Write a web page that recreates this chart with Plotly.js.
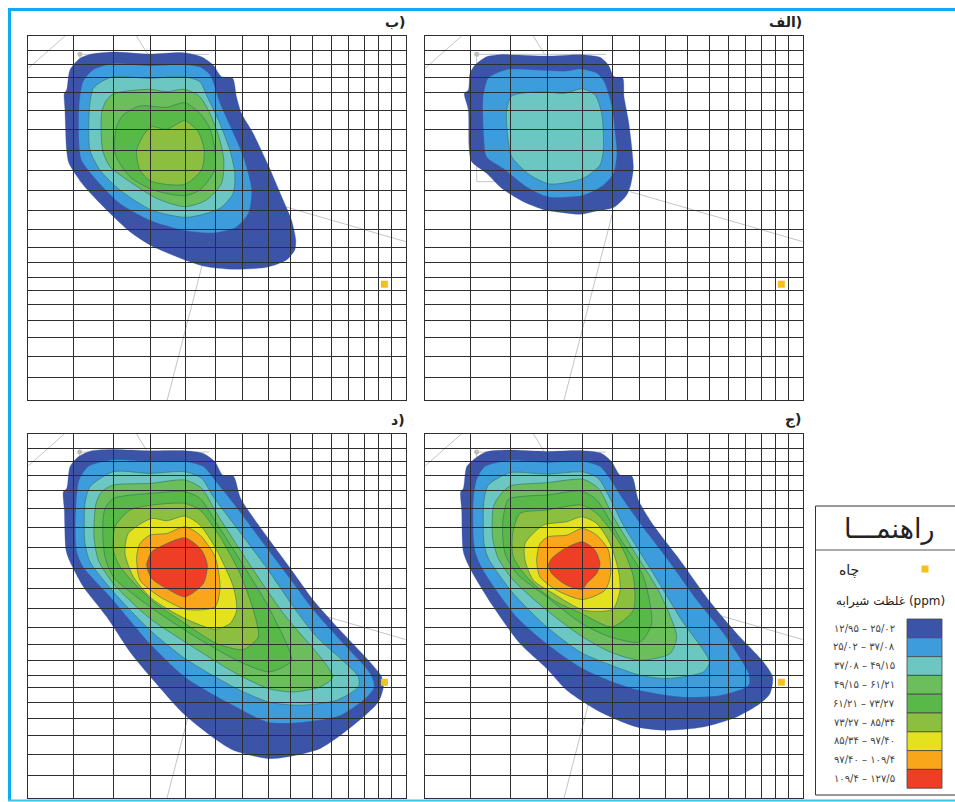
<!DOCTYPE html>
<html><head><meta charset="utf-8">
<script src="https://cdn.plot.ly/plotly-3.0.1.min.js"></script>
<style>html,body{margin:0;padding:0;background:#fff}#c{width:955px;height:802px}</style></head>
<body><div id="c"></div>
<script>
// Shared map reference values, measured from the panel's top-left corner
const gridX=[135,256,367,472,562,644,722,788,853,910,962,1008,1052,1091];
const gridY=[44,84,124,170,224,281,342,403,463,524,581,633,679,725,762,806,853,904,961,1024];
const roadA=[[110,0],[0,97]];
const roadB=[[325,0],[360,57]];
const roadC=[[543,55],[155,55],[155,437],[225,437]];
const roadD=[[615,467],[1133,617]];
const roadE=[[565,522],[417,1092]];
const roadDot=[155,55];
const wellPos=[1069,745];

const levelColors=['#3b54a8','#3d9cdc','#6cc6c2','#6cbd5c','#58b948','#8cbf3f','#e4e21e','#f9a61a','#ee3e25'];
const levelLabels=['۱۲/۹۵ – ۲۵/۰۲','۲۵/۰۲ – ۳۷/۰۸','۳۷/۰۸ – ۴۹/۱۵','۴۹/۱۵ – ۶۱/۲۱','۶۱/۲۱ – ۷۳/۲۷','۷۳/۲۷ – ۸۵/۳۴','۸۵/۳۴ – ۹۷/۴۰','۹۷/۴۰ – ۱۰۹/۴','۱۰۹/۴ – ۱۲۷/۵'];

// Contour outlines per panel, innermost last
const panelA=[
[[200,140],[240,134],[380,138],[480,134],[540,142],[565,165],[582,200],[608,204],[612,260],[625,330],[635,410],[640,475],[632,525],[620,555],[582,592],[520,605],[480,613],[430,608],[375,600],[310,575],[245,535],[200,490],[155,455],[147,410],[145,300],[133,250],[145,240],[150,190],[165,165]],
[[270,178],[380,182],[440,184],[480,178],[530,190],[552,215],[575,290],[585,370],[590,430],[580,490],[550,525],[490,555],[385,560],[320,530],[250,475],[200,440],[192,380],[190,260],[205,205],[230,190]],
[[275,258],[360,245],[435,250],[485,236],[525,255],[545,310],[550,420],[540,465],[490,505],[390,522],[330,495],[275,440],[262,370],[260,300]]
];
const panelB=[
[[215,132],[280,126],[390,132],[490,128],[545,140],[580,165],[605,200],[638,204],[650,260],[665,310],[700,370],[745,465],[790,570],[815,630],[828,690],[825,720],[800,750],[740,772],[640,778],[550,768],[470,740],[390,705],[330,665],[260,600],[190,525],[147,460],[140,420],[135,300],[133,250],[140,240],[150,180],[180,145]],
[[280,162],[390,168],[490,164],[540,172],[570,195],[600,280],[640,370],[670,440],[695,540],[685,610],[650,650],[580,668],[490,660],[390,630],[300,580],[230,510],[185,450],[178,400],[178,290],[190,215],[220,180]],
[[280,200],[390,205],[490,200],[540,215],[560,255],[600,340],[630,420],[645,490],[640,550],[600,595],[500,622],[395,600],[300,540],[240,480],[210,420],[208,300],[220,235],[245,215]],
[[285,250],[390,238],[440,245],[495,238],[540,260],[570,310],[600,390],[612,450],[605,520],[560,570],[495,590],[410,565],[330,515],[270,470],[248,420],[245,310],[260,270]],
[[360,288],[440,292],[495,278],[540,310],[570,355],[585,420],[585,480],[540,540],[495,557],[400,540],[330,500],[285,430],[290,350],[310,315]],
[[395,350],[440,358],[495,332],[535,365],[553,420],[545,480],[495,523],[430,522],[390,512],[360,480],[350,420],[375,370]]
];
const panelC=[
[[200,125],[270,120],[380,124],[490,122],[545,130],[575,155],[600,195],[635,198],[655,270],[700,345],[780,450],[870,575],[950,670],[1030,755],[1058,800],[1050,850],[1020,880],[950,920],[850,950],[735,960],[650,950],[540,905],[440,840],[380,775],[300,700],[220,590],[150,475],[130,425],[125,300],[122,245],[130,235],[140,170],[165,145]],
[[270,152],[380,158],[490,155],[540,170],[565,200],[610,270],[660,340],[740,445],[830,570],[910,670],[985,790],[985,825],[900,855],[790,860],[660,840],[580,815],[480,770],[380,700],[290,620],[190,480],[165,420],[160,280],[170,210],[195,170]],
[[270,188],[380,192],[490,186],[535,205],[570,265],[610,345],[700,490],[785,630],[868,755],[850,785],[740,805],[660,795],[560,760],[480,725],[380,650],[280,550],[205,445],[192,400],[192,270],[205,225]],
[[270,228],[380,218],[490,208],[535,235],[580,320],[640,420],[720,550],[770,680],[750,730],[660,750],[570,725],[480,675],[380,600],[280,510],[235,445],[218,385],[220,290],[240,255]],
[[265,268],[320,258],[380,255],[485,243],[530,270],[600,385],[670,500],[695,640],[660,695],[570,680],[485,640],[380,560],[290,490],[255,430],[248,340]],
[[300,310],[380,300],[485,285],[530,310],[600,400],[640,500],[640,600],[575,650],[485,610],[400,570],[320,500],[280,440],[278,370]],
[[370,345],[440,335],[485,320],[530,340],[570,400],[595,480],[600,540],[578,597],[490,600],[400,550],[340,510],[315,450],[315,400]],
[[385,380],[440,375],[487,355],[530,375],[565,420],[572,490],[555,540],[487,568],[410,540],[360,500],[350,450],[360,400]],
[[430,418],[487,395],[525,420],[540,460],[530,490],[500,520],[487,537],[440,525],[395,490],[385,465],[395,445]]
];
const panelD=[
[[215,122],[280,118],[390,122],[495,122],[550,130],[585,155],[608,195],[640,198],[662,265],[745,385],[815,480],[880,570],[960,660],[1045,750],[1085,800],[1090,830],[1075,875],[1000,945],[900,1015],[800,1040],[745,1045],[640,1020],[570,975],[490,910],[400,810],[330,725],[260,620],[190,530],[150,455],[138,420],[133,300],[130,245],[140,235],[150,170],[175,140]],
[[280,150],[390,155],[495,155],[550,170],[580,205],[640,280],[745,420],[820,520],[880,600],[960,690],[1050,790],[1062,830],[1040,860],[960,915],[850,935],[745,935],[640,885],[495,800],[390,700],[280,570],[190,470],[170,420],[168,300],[178,210],[205,170]],
[[280,185],[390,190],[495,185],[545,205],[580,260],[640,340],[745,480],[820,590],[890,680],[1015,800],[1015,830],[950,870],[840,885],[745,875],[640,830],[495,745],[390,660],[280,545],[210,455],[195,400],[195,280],[210,230]],
[[280,225],[390,220],[495,210],[545,235],[590,310],[680,450],[790,610],[938,800],[900,830],[820,845],[745,835],[640,785],[495,695],[390,625],[280,520],[235,450],[222,380],[228,280],[245,245]],
[[280,265],[390,250],[495,245],[540,265],[590,340],[660,450],[745,590],[815,750],[790,770],[745,785],[660,755],[560,700],[495,660],[390,590],[280,500],[255,440],[248,350],[255,295]],
[[330,300],[395,285],[495,280],[540,300],[600,380],[660,490],[700,600],[715,680],[670,718],[590,700],[495,640],[395,570],[300,470],[280,420],[285,350]],
[[395,325],[440,332],[495,318],[540,345],[590,420],[640,530],[650,600],[630,640],[585,657],[495,625],[395,565],[340,500],[315,430],[325,370]],
[[390,375],[440,370],[495,350],[540,375],[585,440],[600,530],[585,590],[500,598],[420,560],[360,510],[350,440],[360,400]],
[[420,410],[495,383],[545,420],[562,465],[550,520],[495,560],[440,535],[395,505],[380,465],[395,425]]
];
const panelTitles=['الف)','ب)','ج)','د)'];

const W=955,H=802;
// page box of each panel and the origin of its outline values
const panels=[
 {shapes:panelA,box:[425,802.7,36,400],org:[15,78],name:'',t:0},
 {shapes:panelB,box:[28.3,405.7,36,400],org:[25,78],name:'2',t:1},
 {shapes:panelC,box:[425,802.7,433.7,798],org:[15,71],name:'3',t:2},
 {shapes:panelD,box:[28,405.7,433.7,798],org:[24,71],name:'4',t:3}
];
const PW=1133,PH=1092;
const traces=[],layout={width:W,height:H,margin:{l:0,r:0,t:0,b:0},paper_bgcolor:'#fff',plot_bgcolor:'rgba(0,0,0,0)',showlegend:false,shapes:[],annotations:[],font:{family:'"DejaVu Sans",sans-serif'}};

panels.forEach(p=>{
 const xa='x'+p.name,ya='y'+p.name,[ox,oy]=p.org;
 const axisBase={showgrid:false,zeroline:false,showticklabels:false,ticks:'inside',tickmode:'array',tickcolor:'#2e2e2e',tickwidth:1,layer:'above traces',showline:true,mirror:true,linecolor:'#2e2e2e',linewidth:1,fixedrange:true};
 layout['xaxis'+p.name]=Object.assign({},axisBase,{domain:[p.box[0]/W,p.box[1]/W],range:[ox,ox+PW],tickvals:gridX.map(v=>v+ox),ticklen:p.box[3]-p.box[2],anchor:ya});
 layout['yaxis'+p.name]=Object.assign({},axisBase,{domain:[1-p.box[3]/H,1-p.box[2]/H],range:[oy+PH,oy],tickvals:gridY.map(v=>v+oy),ticklen:p.box[1]-p.box[0],anchor:xa});
 [roadA,roadB,roadC,roadD,roadE].forEach(r=>traces.push({type:'scatter',mode:'lines',xaxis:xa,yaxis:ya,x:r.map(q=>q[0]+ox),y:r.map(q=>q[1]+oy),line:{color:'#c4c4c4',width:1},hoverinfo:'skip'}));
 traces.push({type:'scatter',mode:'markers',xaxis:xa,yaxis:ya,x:[roadDot[0]+ox],y:[roadDot[1]+oy],marker:{color:'#bdbdbd',size:5},hoverinfo:'skip'});
 p.shapes.forEach((s,i)=>{
  const c=s.concat([s[0]]);
  traces.push({type:'scatter',mode:'lines',fill:'toself',fillcolor:levelColors[i],xaxis:xa,yaxis:ya,x:c.map(q=>q[0]),y:c.map(q=>q[1]),
   line:{color:i<2?levelColors[i]:'#2b7262',width:i<2?0.3:0.6,shape:'spline',smoothing:0.7},hoverinfo:'skip'});
 });
 traces.push({type:'scatter',mode:'markers',xaxis:xa,yaxis:ya,x:[wellPos[0]+ox],y:[wellPos[1]+oy],marker:{symbol:'square',color:'#f4c01e',size:7},hoverinfo:'skip'});
 layout.annotations.push({xref:'paper',yref:'paper',x:(p.box[1]+1)/W,y:1-(p.box[2]-14)/H,xanchor:'right',yanchor:'middle',showarrow:false,
   text:'<b>'+panelTitles[p.t]+'</b>',font:{size:14,color:'#222',family:'"DejaVu Sans",sans-serif'}});
});

// page frame and legend box
const sh=(x0,y0,x1,y1,extra)=>layout.shapes.push(Object.assign({xref:'paper',yref:'paper',x0:x0/W,x1:x1/W,y0:1-y0/H,y1:1-y1/H},extra));
sh(9.5,9.5,9.5,800.5,{type:'line',line:{color:'#0aaeef',width:3}});
sh(8,9.5,955,9.5,{type:'line',line:{color:'#0aaeef',width:3}});
sh(8,800.5,955,800.5,{type:'line',line:{color:'#3cc0f0',width:2}});
sh(815.5,506,960,795,{type:'rect',line:{color:'#333',width:1},fillcolor:'#fff'});
sh(815.5,550,955,550,{type:'line',line:{color:'#555',width:1}});
sh(921.5,565.5,928.5,572.5,{type:'rect',line:{width:0},fillcolor:'#f4c01e'});
const ann=(x,y,text,size,color)=>layout.annotations.push({xref:'paper',yref:'paper',x:x/W,y:1-y/H,text,showarrow:false,xanchor:'center',yanchor:'middle',font:{size,color:color||'#222',family:'"DejaVu Sans",sans-serif'}});
ann(889,529,'راهنمـــا',27);
ann(849,570,'چاه',14);
ann(890,601,'غلظت شیرابه (ppm)',12);
levelColors.forEach((c,i)=>{
 const y0=619+i*18.8;
 sh(907,y0,942,y0+18.8,{type:'rect',line:{color:'#444',width:0.8},fillcolor:c});
 ann(864,y0+9,levelLabels[i],10,'#444');
});
Plotly.newPlot('c',traces,layout,{staticPlot:true,displayModeBar:false});
</script></body></html>
